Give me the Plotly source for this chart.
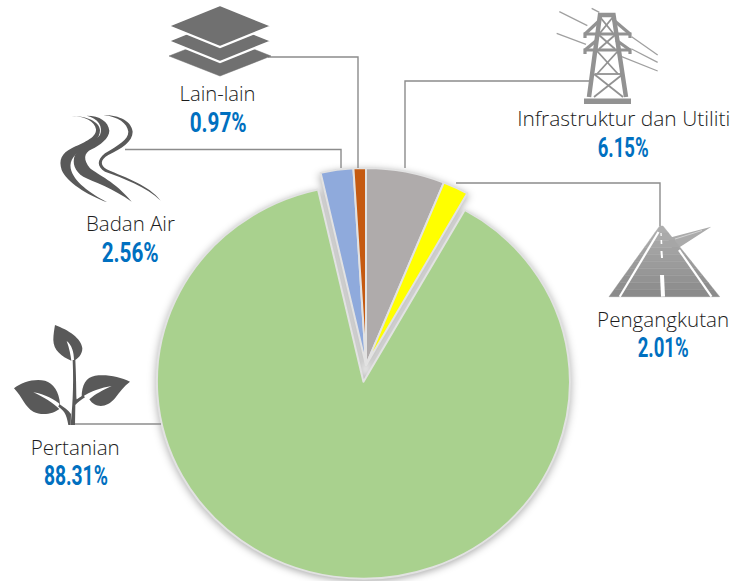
import re
import plotly.graph_objects as go

# --- data -------------------------------------------------------------
categories = ["Infrastruktur dan Utiliti", "Pengangkutan", "Pertanian", "Badan Air", "Lain-lain"]
values = [6.15, 2.01, 88.31, 2.56, 0.97]
colors = ["#AFABAB", "#FFFF00", "#A9D18E", "#8FAADC", "#C55A11"]
pulls = [0, 0, 0.0857, 0, 0]
label_centres = [(623, 118), (663, 319), (75, 447), (130, 223), (217, 94)]
value_centres = [(623, 148), (663, 348), (75.5, 476), (130, 253), (217.5, 123)]
label_widths = [213, 132, 89, 89, 76]
value_widths = [51, 51, 64, 57, 57]

# --- layout helpers ---------------------------------------------------
W, H = 736, 581
CX, CY, R = 366.0, 337.0, 206.5       # pie centre/radius before the vertical squash
FINAL_CY, SQUASH = 365.0, 0.954


def fx(x):
    return x / W


def fy(y):
    return 1 - y / H


def to_paper(path, ox=0.0, oy=0.0, k=1.0):
    def rep(m):
        x = ox + float(m.group(1)) * k
        y = oy + float(m.group(2)) * k
        return f"{fx(x):.5f},{fy(y):.5f}"
    return re.sub(r"(-?[\d.]+),(-?[\d.]+)", rep, path)


shapes = []


def add_path(path, fill=None, line=None, width=0, ox=0.0, oy=0.0, k=1.0):
    shapes.append(dict(
        type="path", xref="paper", yref="paper", path=to_paper(path, ox, oy, k),
        fillcolor=fill if fill else "rgba(0,0,0,0)",
        line=dict(color=line if line else "rgba(0,0,0,0)", width=width),
    ))


# --- connectors --------------------------------------------------------
CONN = "#8c8c8c"
for p in ["M268,57 L358,57 L358,168",
          "M125,149.5 L341,149.5 L341,168",
          "M405,168 L405,81 L592,81",
          "M456,183 L660,183 L660,226",
          "M75,424 L161,424"]:
    add_path(p, line=CONN, width=1.4)

# --- icon: layers ------------------------------------------------------
LAYER = "#707070"
for cy, stroke in [(56, 0), (41, 2.2), (26, 2.2)]:
    hw, hh = (51, 20) if not stroke else (52, 21)
    add_path(f"M{220-hw},{cy} L220,{cy-hh} L{220+hw},{cy} L220,{cy+hh} Z", fill=LAYER,
             line="#ffffff" if stroke else LAYER, width=stroke or 0.5)

# --- icon: river -------------------------------------------------------
RIVER = "#595959"
for p in [
    "M65,18 C105,18 135,35 138,58 C140,85 95,100 65,115 C35,130 25,150 35,180 C50,215 110,255 172,277 "
    "C120,250 70,215 62,175 C58,150 75,130 105,115 C130,100 150,85 150,60 C148,35 110,18 65,18 Z",
    "M110,17 C150,17 175,35 178,62 C178,85 150,105 125,118 C100,130 100,150 120,175 C145,195 195,215 245,275 "
    "C190,235 130,215 100,200 C75,185 65,160 75,135 C90,110 135,95 150,75 C160,50 145,25 110,17 Z",
    "M160,15 C210,15 245,35 248,65 C248,95 215,115 175,135 C150,150 150,165 170,178 C230,205 295,225 332,272 "
    "C290,230 220,205 165,185 C140,170 140,150 165,130 C205,105 235,90 235,65 C232,40 205,20 160,15 Z",
]:
    add_path(p, fill=RIVER, ox=50, oy=110, k=1 / 3)

# --- icon: pylon --------------------------------------------------------
TOWER = "#929292"
for (x0, y0, x1, y1) in [(28, 20, 112, 62), (20, 85, 108, 118), (125, 10, 148, 22),
                         (245, 95, 323, 150), (245, 132, 323, 172), (215, 155, 323, 198)]:
    add_path(f"M{x0},{y0} L{x1},{y1}", line="#a0a0a0", width=1.3, ox=550, oy=5, k=1 / 3)
add_path("M589,97 L600,15 L613.5,15 L626,97", line=TOWER, width=4.5)
add_path("M584,98.5 L631,98.5 L631,104 L584,104 Z", fill=TOWER)
for p in ["M585,38 L585,34 L630,34 L630,38", "M585,54 L585,50 L630,50 L630,54",
          "M585,34 L600,20", "M630,34 L613.5,20", "M585,50 L597,40", "M630,50 L616,40"]:
    add_path(p, line=TOWER, width=3.2)
for p in ["M600,17 L613,33", "M613,17 L600,33", "M599,35 L615,49", "M615,35 L599,49",
          "M597,51 L618,74", "M618,51 L597,74", "M594,74 L623,97", "M623,74 L594,97",
          "M595,74 L622,74"]:
    add_path(p, line=TOWER, width=1.8)

# --- icon: road --------------------------------------------------------
add_path("M667,232 L671.3,237.3 L711.3,226.7 L678,248.3 L672,248 L664,230 Z", fill="#ababab")
bands = 10
y_top, y_bot = 226.0, 296.7
for i in range(bands):
    a, b = i / bands, (i + 1) / bands
    ya, yb = y_top + a * (y_bot - y_top), y_top + b * (y_bot - y_top)
    xla, xlb = 659.7 - a * 50.7, 659.7 - b * 50.7
    xra, xrb = 663 + a * 56.7, 663 + b * 56.7
    g = int(176 - 38 * (a + b) / 2)
    c = f"rgb({g},{g},{g})"
    add_path(f"M{xla:.2f},{ya:.2f} L{xra:.2f},{ya:.2f} L{xrb:.2f},{yb:.2f} L{xlb:.2f},{yb:.2f} Z",
             fill=c, line=c, width=0.4)
for p, w in [("M619.7,296.7 L658.5,232", 2.2), ("M711.5,296.7 L679,250", 2.2),
             ("M663,296.7 L662,275", 4), ("M662,258 L661.5,251", 2),
             ("M661.5,244 L661.3,240", 1.6), ("M661.2,236 L661,233", 1.3)]:
    add_path(p, line="#ffffff", width=w)
add_path("M675,239 L702,230.5", line="#dddddd", width=0.8)

# --- icon: plant --------------------------------------------------------
PLANT = "#595959"
for p in [
    "M165,45 C205,60 245,85 247,115 C247,135 232,148 222,152 C222,125 215,105 200,93 C208,115 212,135 214,152 "
    "C185,140 160,120 160,90 C160,72 163,58 165,45 Z",
    "M42,235 C65,215 105,205 135,212 C160,220 178,245 180,283 C165,270 135,252 100,247 C130,260 160,280 178,297 "
    "C160,312 125,318 100,305 C75,292 68,262 42,235 Z",
    "M390,215 C360,200 320,192 285,197 C258,202 245,225 245,262 C270,245 305,232 335,228 C310,240 285,252 268,268 "
    "C285,295 320,295 345,265 C360,245 372,228 390,215 Z",
    "M212,345 C216,300 222,240 218,150 L226,150 C230,235 228,270 231,268 C240,262 246,258 250,256 L255,262 "
    "C245,268 232,278 226,285 L225,345 Z",
    "M212,345 L213,312 C205,300 192,292 178,282 L175,290 C190,300 200,310 205,345 Z",
]:
    add_path(p, fill=PLANT, ox=0, oy=310, k=1 / 3)

# --- text ---------------------------------------------------------------
annotations = []
for name, v, (lx, ly), (vx, vy) in zip(categories, values, label_centres, value_centres):
    annotations.append(dict(
        x=fx(lx), y=fy(ly), xref="paper", yref="paper", text=name, showarrow=False,
        xanchor="center", yanchor="middle",
        font=dict(family="Open Sans", size=20, weight=300, color="#1c1c1c"),
    ))
    annotations.append(dict(
        x=fx(vx), y=fy(vy), xref="paper", yref="paper", text=f"{v:.2f}%", showarrow=False,
        xanchor="center", yanchor="middle",
        font=dict(family="Roboto", size=27, weight=700, color="#0070C0"),
    ))

# --- figure ---------------------------------------------------------------
half = R * (1 + max(pulls))
fig = go.Figure(go.Pie(
    labels=categories, values=values, sort=False, direction="clockwise", rotation=0,
    pull=pulls, textinfo="none", hoverinfo="label+percent", showlegend=False,
    marker=dict(colors=colors, line=dict(color="#e2e2e2", width=2)),
    domain=dict(x=[(CX - half) / W, (CX + half) / W],
                y=[1 - (CY + half) / H, 1 - (CY - half) / H]),
))
fig.update_layout(
    width=W, height=H, margin=dict(l=0, r=0, t=0, b=0),
    paper_bgcolor="#ffffff", plot_bgcolor="#ffffff",
    shapes=shapes, annotations=annotations,
)

# The reference pie is an ellipse with a soft shadow: squash the pie layer slightly.
# The reference text uses faces that are not installed: fit each to its measured width.
ty = FINAL_CY - SQUASH * CY
pairs = [f'"{v:.2f}%":{w}' for v, w in zip(values, value_widths)]
pairs += [f'"{n}":{w}' for n, w in zip(categories, label_widths)]
widths_js = "{" + ",".join(pairs) + "}"
post = f"""
document.body.style.margin = '0';
document.body.style.overflow = 'hidden';
var pl = document.querySelector('.pielayer');
if (pl) {{
  pl.setAttribute('transform', 'translate(0,{ty:.3f}) scale(1,{SQUASH})');
  pl.style.filter = 'drop-shadow(0px 2px 4px rgba(0,0,0,0.32))';
}}
var widths = {widths_js};
document.querySelectorAll('.annotation-text').forEach(function (t) {{
  var w = widths[t.textContent];
  if (w) {{
    t.setAttribute('textLength', w);
    t.setAttribute('lengthAdjust', 'spacingAndGlyphs');
  }}
}});
"""
fig.write_html("out.html", post_script=post, config=dict(displayModeBar=False))
